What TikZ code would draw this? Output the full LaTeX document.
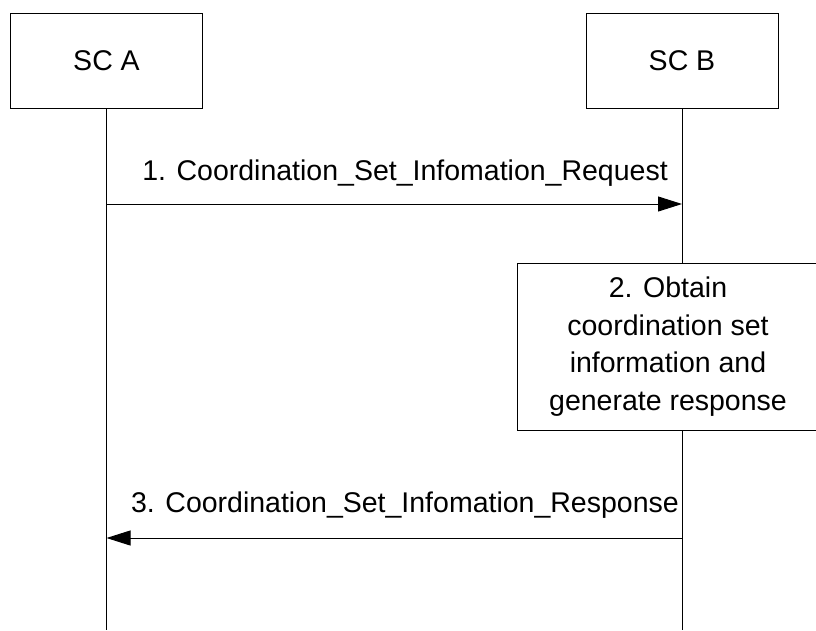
\documentclass[tikz,border=0pt]{standalone}
\usepackage{fontspec}
\setmainfont{Liberation Sans}
\usetikzlibrary{arrows.meta}
\begin{document}
\begin{tikzpicture}[x=1pt,y=-1pt,
  every node/.style={font=\fontsize{28.5}{37.7}\selectfont},
  actor/.style={draw,line width=1pt,minimum width=192pt,minimum height=95pt,inner sep=0pt},
  lifeline/.style={line width=1pt},
  msg/.style={line width=1pt,-{Triangle[length=24pt,width=15pt]}},
  lbl/.style={anchor=base east,inner sep=0pt}]
\useasboundingbox (0,0) rectangle (816,630);
\node[actor] (A) at (106.5,60.5) {SC A};
\node[actor] (B) at (682,60.5) {SC B};
\coordinate (Aend) at (106.5,630);
\coordinate (Bend) at (682,630);
\draw[lifeline] (A.south) -- (Aend);
\draw[lifeline] (B.south) -- (Bend);
\node[draw,line width=1pt,fill=white,minimum width=301pt,minimum height=167pt,inner sep=0pt,align=center,anchor=north west] (P) at (517,262.5) {2. Obtain\\coordination set\\information and\\generate response};
\coordinate (m1a) at (106.5,204);
\coordinate (m1b) at (682,204);
\draw[msg] (m1a) -- (m1b);
\node[lbl] (l1) at (668,180.5) {1. Coordination\_Set\_Infomation\_Request};
\coordinate (m3a) at (682,538);
\coordinate (m3b) at (106.5,538);
\draw[msg] (m3a) -- (m3b);
\node[lbl] (l3) at (679,512.5) {3. Coordination\_Set\_Infomation\_Response};
\end{tikzpicture}
\end{document}
